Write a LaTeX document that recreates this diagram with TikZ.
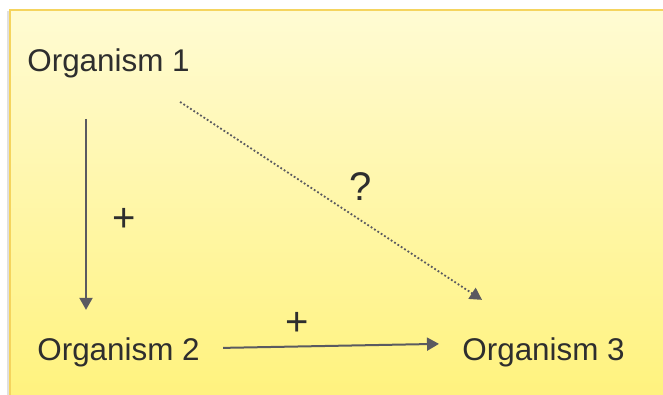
\documentclass[tikz,border=0pt]{standalone}
\usepackage{fontspec}
\setmainfont{Liberation Sans}
\usetikzlibrary{arrows.meta,calc}

\definecolor{boxtop}{HTML}{FFFBD3}
\definecolor{boxbottom}{HTML}{FFF27C}
\definecolor{boxline}{HTML}{F5D45E}
\definecolor{arrowgray}{HTML}{5A5A60}
\definecolor{textgray}{HTML}{2E2E2E}

\tikzset{
	organism/.style={inner sep=0pt, anchor=base west, text=textgray, font=\fontsize{15.7}{19}\selectfont},
	sign/.style={inner sep=0pt, text=textgray, font=\fontsize{20}{24}\selectfont},
	link/.style={draw=arrowgray, line width=1pt, -{Triangle[length=6pt,width=6.5pt]}},
	maybe/.style={link, line width=0.9pt, dash pattern=on 0.9pt off 1.1pt}
}

\begin{document}
\begin{tikzpicture}[x=0.5pt, y=-0.5pt]
		% Background
		\useasboundingbox (0, 0) rectangle (663, 395);
		\fill[white] (0, 0) rectangle (663, 395);
		\draw[black!12, line width=1pt] (7.5, 11) -- (7.5, 400);
		\shade[top color=boxtop, bottom color=boxbottom, draw=boxline, line width=1pt]
			(10, 10) rectangle (675, 405);
		
		% Organisms
		\node[organism] (org1) at (27, 72) {Organism 1};
		\node[organism] (org2) at (37, 360) {Organism 2};
		\node[organism] (org3) at (462, 360) {Organism 3};
		
		% Interactions
		\draw[link] ($(org1.south west)+(59, 40)$) -- ($(org2.north west)+(49, -27)$);
		\node[sign] (plus1) at (124, 220) {+};
		
		\draw[link] ($(org2.east)+(23, -4)$) -- ($(org3.west)+(-23, -8)$);
		\node[sign] (plus2) at (297, 324) {+};
		
		% Unknown effect
		\draw[maybe] ($(org1.south east)+(-10, 23)$) -- ($(org3.north west)+(20, -37)$);
		\node[sign] (query) at (361, 187) {?};
	\end{tikzpicture}
\end{document}
